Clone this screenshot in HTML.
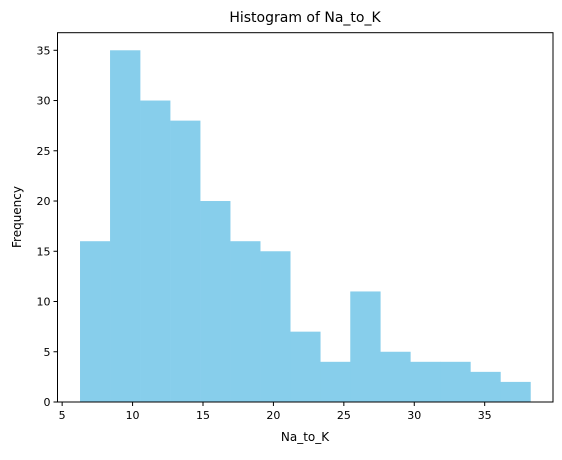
<!DOCTYPE html>
<html><head><meta charset="utf-8"><style>
body{margin:0;background:#fff;font-family:"Liberation Sans","DejaVu Sans",sans-serif;}
svg text{font-family:"DejaVu Sans","Liberation Sans",sans-serif;fill:#000;}
</style></head><body>
<svg id="chart" width="562" height="455">
<text x="305" y="22" font-size="14" text-anchor="middle">Histogram of Na_to_K</text>
<g id="bars"></g>
<g id="axes"></g>
<text x="305" y="441" font-size="12" text-anchor="middle">Na_to_K</text>
<text transform="translate(21,217) rotate(-90)" font-size="12" text-anchor="middle">Frequency</text>
</svg>
<script>
const binStart = 6.269;
const binWidth = 2.1319;
const counts = [16,35,30,28,20,16,15,7,4,11,5,4,4,3,2];
const xTicks = [5,10,15,20,25,30,35];
const yTicks = [0,5,10,15,20,25,30,35];
const xMin = 4.67, xMax = 39.85, yMax = 36.75;
const L = 57.5, R = 553, T = 32.7, B = 402;
const NS = 'http://www.w3.org/2000/svg';
function sx(v){return L + (v - xMin) / (xMax - xMin) * (R - L);}
function sy(v){return B - v / yMax * (B - T);}
function mk(tag, attrs, parent){const e=document.createElementNS(NS,tag);for(const k in attrs)e.setAttribute(k,attrs[k]);parent.appendChild(e);return e;}
const bars = document.getElementById('bars');
counts.forEach((c,i)=>{
  const x0 = sx(binStart + i*binWidth), x1 = sx(binStart + (i+1)*binWidth);
  const r = mk('rect',{x:x0,y:sy(c),width:x1-x0+0.3,height:B-sy(c),fill:'#87ceeb'},bars);
  
  
});
const ax = document.getElementById('axes');
const frame = mk('rect',{x:L,y:T,width:R-L,height:B-T,fill:'none',stroke:'#000','stroke-width':1},ax);


xTicks.forEach(t=>{
  const x = sx(t);
  mk('line',{x1:x,x2:x,y1:B,y2:B+4,stroke:'#000'},ax);
  const tx = mk('text',{x:x,y:B+17,'font-size':'11','text-anchor':'middle'},ax);
  tx.textContent = t;
  
  
});
yTicks.forEach(t=>{
  const y = sy(t);
  mk('line',{x1:L-4,x2:L,y1:y,y2:y,stroke:'#000'},ax);
  const tx = mk('text',{x:L-7,y:y+4,'font-size':'11','text-anchor':'end'},ax);
  tx.textContent = t;
  
  
});
</script>
</body></html>
